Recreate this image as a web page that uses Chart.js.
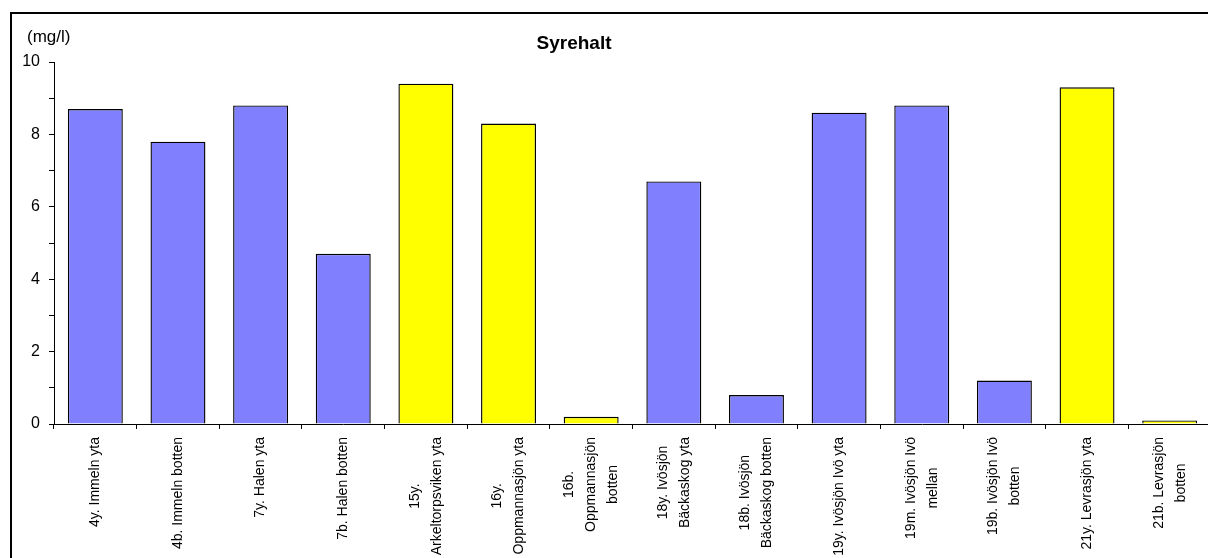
<!DOCTYPE html>
<html>
<head>
<meta charset="utf-8">
<script src="https://cdn.jsdelivr.net/npm/chart.js@4.4.0/dist/chart.umd.min.js"></script>
<style>
  html, body { margin: 0; padding: 0; background: #fff; overflow: hidden; }
  #wrap { position: relative; width: 1208px; height: 558px; overflow: hidden; }
  #chart { position: absolute; left: 0; top: 0; }
  #frame { position: absolute; left: 10px; top: 12px; width: 2000px; height: 2000px;
           border-top: 2px solid #000; border-left: 2px solid #000; pointer-events: none; }
</style>
</head>
<body>
<div id="wrap">
  <canvas id="chart" width="1211" height="558"></canvas>
  <div id="frame"></div>
</div>
<script>
// Provpunkter (x-axelns etiketter, radbrytning som i originalet)
const stations = [
  '4y. Immeln yta',
  '4b. Immeln botten',
  '7y. Halen yta',
  '7b. Halen botten',
  ['15y.', 'Arkeltorpsviken yta'],
  ['16y.', 'Oppmannasjön yta'],
  ['16b.', 'Oppmannasjön', 'botten'],
  ['18y. Ivösjön', 'Bäckaskog yta'],
  ['18b. Ivösjön', 'Bäckaskog botten'],
  '19y. Ivösjön Ivö yta',
  ['19m. Ivösjön Ivö', 'mellan'],
  ['19b. Ivösjön Ivö', 'botten'],
  '21y. Levrasjön yta',
  ['21b. Levrasjön', 'botten']
];

// Syrehalt (mg/l)
const oxygen = [8.7, 7.8, 8.8, 4.7, 9.4, 8.3, 0.2, 6.7, 0.8, 8.6, 8.8, 1.2, 9.3, 0.1];

// Grupp per provpunkt (0 = blå, 1 = gul)
const stationGroup = [0, 0, 0, 0, 1, 1, 1, 0, 0, 0, 0, 0, 1, 1];

// Y-axelns etiketter (övriga heltal får bara en tickmarkering)
const yTickLabels = [0, 2, 4, 6, 8, 10];

const groupColors = ['#8080FF', '#FFFF00'];
const FONT = '"Liberation Sans", Arial, sans-serif';

// Rubrik, enhet och roterade x-etiketter
const textPlugin = {
  id: 'texts',
  afterDraw(chart) {
    const ctx = chart.ctx;
    const xScale = chart.scales.x;
    ctx.save();
    ctx.fillStyle = '#000';

    ctx.font = 'bold 19px ' + FONT;
    ctx.textAlign = 'center';
    ctx.textBaseline = 'middle';
    ctx.fillText('Syrehalt', 574, 44);

    ctx.font = '17px ' + FONT;
    ctx.textAlign = 'left';
    ctx.fillText('(mg/l)', 27, 37);

    ctx.font = '14px ' + FONT;
    const lineH = 22;
    const topY = chart.chartArea.bottom + 13;
    stations.forEach((lab, i) => {
      const lines = Array.isArray(lab) ? lab : [lab];
      const maxW = Math.max(...lines.map(l => ctx.measureText(l).width));
      const x = xScale.getPixelForValue(i);
      ctx.save();
      ctx.translate(x, topY);
      ctx.rotate(-Math.PI / 2);
      ctx.textAlign = 'center';
      ctx.textBaseline = 'middle';
      lines.forEach((l, j) => {
        ctx.fillText(l, -maxW / 2, (j - (lines.length - 1) / 2) * lineH);
      });
      ctx.restore();
    });
    ctx.restore();
  }
};

new Chart(document.getElementById('chart'), {
  type: 'bar',
  data: {
    labels: stations,
    datasets: [{
      data: oxygen,
      backgroundColor: stationGroup.map(g => groupColors[g]),
      borderColor: '#000',
      borderWidth: 1.4,
      barPercentage: 0.665,
      categoryPercentage: 1
    }]
  },
  options: {
    responsive: false,
    animation: false,
    layout: { padding: { top: 62, left: 0, right: 0, bottom: 0 } },
    plugins: {
      legend: { display: false },
      title: { display: false },
      tooltip: { enabled: false }
    },
    scales: {
      x: {
        grid: { offset: true, drawOnChartArea: false, drawTicks: true, tickLength: 5, tickColor: '#000' },
        border: { color: '#000', width: 1 },
        ticks: { display: false },
        afterFit(scale) { scale.height = 134; }
      },
      y: {
        min: 0,
        max: 10,
        grid: { drawOnChartArea: false, drawTicks: true, tickLength: 5, tickColor: '#000' },
        border: { color: '#000', width: 1 },
        ticks: {
          stepSize: 1,
          padding: 9,
          color: '#000',
          font: { family: FONT, size: 16 },
          callback: v => yTickLabels.includes(v) ? String(v) : ''
        },
        afterFit(scale) { scale.width = 54; }
      }
    }
  },
  plugins: [textPlugin]
});
</script>
</body>
</html>
